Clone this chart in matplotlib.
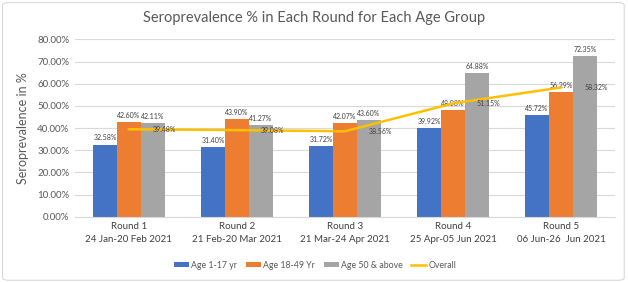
import matplotlib.pyplot as plt
import numpy as np
from matplotlib.patches import FancyBboxPatch

plt.rcParams['font.family'] = ['Lato', 'DejaVu Sans']

# Data
rounds = ["Round 1\n24 Jan-20 Feb 2021", "Round 2\n21 Feb-20 Mar 2021",
          "Round 3\n21 Mar-24 Apr 2021", "Round 4\n25 Apr-05 Jun 2021",
          "Round 5\n06 Jun-26  Jun 2021"]
age_1_17 = [32.58, 31.40, 31.72, 39.92, 45.72]
age_18_49 = [42.60, 43.90, 42.07, 48.08, 56.29]
age_50_up = [42.11, 41.27, 43.60, 64.88, 72.35]
overall = [39.48, 39.08, 38.56, 51.15, 58.32]

series = [("Age 1-17 yr", age_1_17, "#4472C4"),
          ("Age 18-49 Yr", age_18_49, "#ED7D31"),
          ("Age 50 & above", age_50_up, "#A5A5A5")]

fig = plt.figure(figsize=(6.28, 2.82), dpi=100)
ax = fig.add_axes([0.1194, 0.2316, 0.8598, 0.6284])

x = np.arange(len(rounds))
w = 0.222
handles = []
for i, (name, vals, col) in enumerate(series):
    pos = x + (i - 1) * w
    h = ax.bar(pos, vals, width=w, color=col, label=name, zorder=2)
    handles.append(h)
    for px, v in zip(pos, vals):
        ax.text(px, v + 1.5, f"{v:.2f}%", ha='center', va='bottom',
                fontsize=5, color='#404040')

line, = ax.plot(x, overall, color='#FFC000', lw=1.8, label='Overall', zorder=3)
handles.append(line)
for px, v in zip(x, overall):
    ax.text(px + 0.22, v, f"{v:.2f}%", ha='left', va='center',
            fontsize=5, color='#404040', zorder=4)

ax.set_xlim(-0.5, len(rounds) - 0.5)
ax.set_ylim(0, 80)
ax.set_yticks(np.arange(0, 81, 10))
ax.set_yticklabels([f"{t:.2f}%" for t in np.arange(0, 81, 10)],
                   fontsize=7, color='#595959')
ax.set_xticks(x)
ax.set_xticklabels(rounds, fontsize=7, color='#404040', linespacing=1.5)
ax.tick_params(length=0, pad=4)
ax.grid(axis='y', color='#D9D9D9', lw=0.8, zorder=0)
for s in ['top', 'right', 'left']:
    ax.spines[s].set_visible(False)
ax.spines['bottom'].set_color('#D9D9D9')

ax.set_ylabel("Seroprevalence in %", fontsize=9, color='#595959', labelpad=6)
fig.text(0.5, 0.935, "Seroprevalence % in Each Round for Each Age Group",
         ha='center', va='center', fontsize=10.5, color='#595959')

fig.legend(handles=handles, labels=[h.get_label() for h in handles],
           loc='center', bbox_to_anchor=(0.502, 0.06), ncol=4, frameon=False,
           fontsize=6.3, handlelength=1.7, handleheight=0.45,
           columnspacing=1.0, handletextpad=0.25, labelcolor='#595959')

border = FancyBboxPatch((0.004, 0.006), 0.99, 0.985, boxstyle="round,pad=0,rounding_size=0.01",
                        transform=fig.transFigure, fill=False, ec='#D9D9D9', lw=0.8)
fig.patches.append(border)

fig.savefig("out.png", dpi=100)
